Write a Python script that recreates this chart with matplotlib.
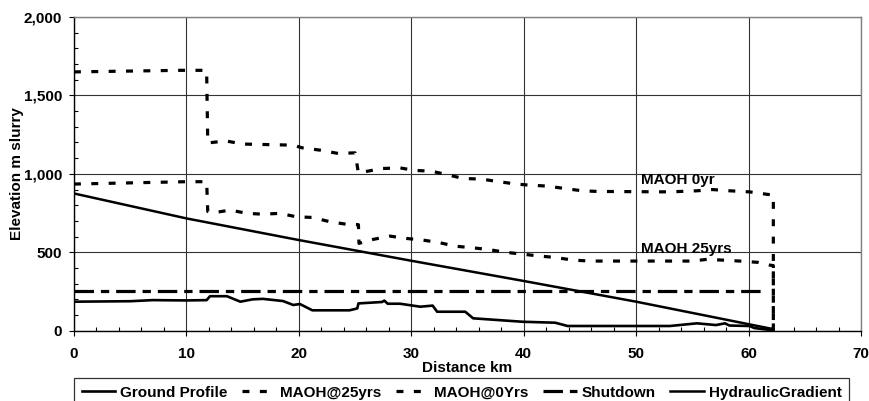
import matplotlib
matplotlib.use("Agg")
import matplotlib.pyplot as plt
from matplotlib.ticker import MultipleLocator, FuncFormatter

plt.rcParams['font.family'] = ['Liberation Sans', 'DejaVu Sans']
plt.rcParams['font.weight'] = 'bold'
plt.rcParams['lines.scale_dashes'] = False

# Ground profile (km, m)
ground_km = [0, 5, 7, 10, 11.8, 12.1, 13.6, 14.8, 15.9, 16.8, 18.6, 19.5, 20.1,
             21.2, 24.5, 25.2, 25.3, 27.4, 27.6, 27.9, 29.0, 30.8, 31.9, 32.3,
             34.8, 35.5, 39.9, 42.8, 43.9, 53.0, 55.4, 57.1, 57.9, 58.3, 60.1,
             60.5, 61.9, 62.2]
ground_m = [185, 188, 195, 193, 195, 220, 220, 185, 200, 203, 189, 164, 170,
            130, 130, 142, 174, 183, 192, 172, 172, 153, 160, 121,
            121, 79, 57, 51, 30, 30, 47, 36, 47, 33, 30,
            17, 5, 5]

# MAOH at 25 years (lower dashed)
maoh25_km = [0, 10, 11.8, 11.9, 12.4, 13.9, 15.4, 16.8, 18.3, 19.8, 21.2, 22.8,
             24.3, 25.3, 25.35, 26.6, 28.1, 29.6, 31.0, 32.4, 33.9, 35.4, 36.8,
             38.5, 39.9, 41.4, 42.8, 44.4, 45.9, 55.0, 56.3, 57.7, 59.2, 60.8,
             61.9, 62.2, 62.2]
maoh25_m = [935, 950, 950, 760, 752, 769, 748, 743, 748, 726, 722, 694,
            678, 676, 557, 582, 603, 588, 578, 563, 539, 529, 518,
            499, 488, 476, 467, 450, 444, 444, 455, 450, 444, 436,
            418, 415, 0]

# MAOH at 0 years (upper dashed)
maoh0_km = [0, 9.4, 11.8, 11.9, 13.5, 15.0, 19.5, 20.3, 21.9, 23.5, 25.0, 25.3,
            27.4, 29.0, 30.3, 31.8, 33.1, 34.6, 36.3, 37.7, 39.2, 40.5, 42.1,
            43.6, 45.2, 46.5, 53.0, 55.4, 56.8, 58.3, 60.1, 61.6, 62.2, 62.2]
maoh0_m = [1650, 1660, 1660, 1197, 1210, 1190, 1183, 1166, 1151, 1130, 1134, 1006,
           1034, 1038, 1022, 1017, 996, 971, 966, 951, 936, 928, 922,
           907, 892, 888, 885, 892, 900, 892, 885, 870, 865, 0]

# Shutdown head
shutdown_km = [0, 61.3]
shutdown_m = [250, 250]

# Hydraulic gradient
hg_km = [0, 10, 20, 30, 40, 50, 62.2]
hg_m = [875, 716, 578, 446, 317, 185, 10]

fs = 11

fig = plt.figure(figsize=(8.7, 4.01), dpi=100)
ax = fig.add_axes([0.085, 0.1753, 0.9047, 0.7823])

ax.plot(ground_km, ground_m, color='black', lw=1.9, label='Ground Profile')
ax.plot(maoh25_km, maoh25_m, color='black', lw=2.3, dashes=(5, 7.5), label='MAOH@25yrs')
ax.plot(maoh0_km, maoh0_m, color='black', lw=2.3, dashes=(5, 7.5), label='MAOH@0Yrs')
ax.plot(shutdown_km, shutdown_m, color='black', lw=2.3, dashes=(14, 5, 6, 5), label='Shutdown')
ax.plot(hg_km, hg_m, color='black', lw=1.8, label='HydraulicGradient')

ax.text(50.4, 960, 'MAOH 0yr', fontsize=fs, fontweight='bold', va='center', ha='left')
ax.text(50.4, 518, 'MAOH 25yrs', fontsize=fs, fontweight='bold', va='center', ha='left')

ax.set_xlim(0, 70)
ax.set_ylim(0, 2000)
ax.xaxis.set_major_locator(MultipleLocator(10))
ax.xaxis.set_minor_locator(MultipleLocator(2))
ax.yaxis.set_major_locator(MultipleLocator(500))
ax.yaxis.set_minor_locator(MultipleLocator(100))
ax.yaxis.set_major_formatter(FuncFormatter(lambda v, p: f"{int(v):,}"))

ax.grid(True, which='major', color='#333333', lw=0.8)
ax.set_axisbelow(True)
ax.tick_params(which='major', direction='out', length=3.5, width=0.8, labelsize=fs)
ax.tick_params(axis='x', which='major', pad=8)
ax.tick_params(axis='y', which='major', pad=5)
ax.tick_params(which='minor', direction='in', length=3, width=0.8)
for lab in ax.get_xticklabels() + ax.get_yticklabels():
    lab.set_fontweight('bold')

for side in ['left', 'bottom']:
    ax.spines[side].set_color('black')
    ax.spines[side].set_linewidth(1.0)
for side in ['top', 'right']:
    ax.spines[side].set_color('#808080')
    ax.spines[side].set_linewidth(1.0)

ax.set_xlabel('Distance km', fontsize=fs, fontweight='bold', labelpad=0)
ax.set_ylabel('Elevation m slurry', fontsize=fs, fontweight='bold')
ax.yaxis.set_label_coords(-0.064, 0.5)

handles, labels = ax.get_legend_handles_labels()
leg = fig.legend(handles, labels, loc='upper left', ncol=5,
                 bbox_to_anchor=(0.085, 0.0, 0.891, 1 - 378 / 401),
                 bbox_transform=fig.transFigure, mode='expand',
                 frameon=True, fancybox=False, edgecolor='black',
                 handlelength=2.2, handletextpad=0.3, borderaxespad=0,
                 borderpad=0.5, prop={'weight': 'bold', 'size': fs})
leg.get_frame().set_linewidth(0.9)

fig.savefig('out.png', dpi=100)
